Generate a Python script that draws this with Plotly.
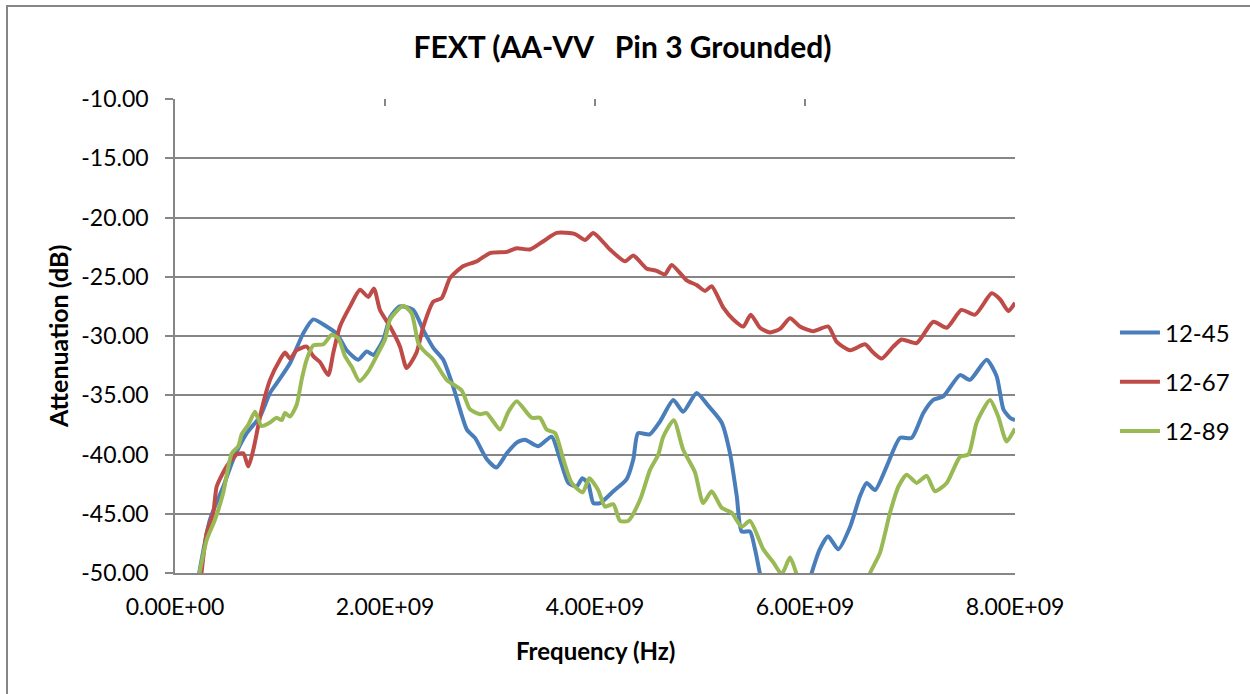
import plotly.graph_objects as go

# Far-end crosstalk, pin 3 grounded: frequency (GHz) and attenuation (dB) per pair
freq_12_45 = [0.20, 0.333, 0.46, 0.556, 0.683, 0.81, 0.905, 0.968, 1.095, 1.22, 1.317, 1.444, 1.54,
              1.635, 1.746, 1.825, 1.89, 1.984, 2.05, 2.14, 2.27, 2.365, 2.46, 2.555, 2.65, 2.78,
              2.857, 2.97, 3.06, 3.16, 3.254, 3.333, 3.46, 3.587, 3.667, 3.746, 3.825, 3.88, 3.937,
              3.984, 4.048, 4.175, 4.3, 4.365, 4.41, 4.52, 4.62, 4.746, 4.84, 4.968, 5.08, 5.206,
              5.286, 5.35, 5.397, 5.476, 5.524, 5.57, 5.62, 6.0, 6.063, 6.14, 6.22, 6.317, 6.43,
              6.524, 6.587, 6.667, 6.778, 6.905, 7.016, 7.127, 7.222, 7.317, 7.476, 7.571, 7.73,
              7.825, 7.89, 7.952, 8.0]
att_12_45 = [-51.5, -45.5, -42.7, -40.4, -38.2, -36.8, -34.8, -34.0, -32.3, -29.8, -28.6, -29.2, -29.8,
             -31.2, -32.0, -31.3, -31.6, -30.3, -28.4, -27.5, -27.8, -29.5, -31.0, -32.0, -34.3, -37.9,
             -38.6, -40.4, -41.1, -39.9, -39.0, -38.75, -39.3, -38.5, -40.4, -42.4, -42.7, -42.0, -42.5,
             -44.1, -44.1, -43.1, -42.1, -40.4, -38.2, -38.3, -37.2, -35.4, -36.4, -34.8, -35.9, -37.3,
             -39.9, -43.5, -46.5, -46.5, -48.0, -50.0, -52.0, -52.0, -50.0, -48.0, -46.9, -48.0, -46.1,
             -43.5, -42.4, -43.0, -41.0, -38.6, -38.6, -36.5, -35.4, -35.1, -33.3, -33.7, -32.0,
             -33.4, -36.2, -36.9, -37.1]

freq_12_67 = [0.24, 0.302, 0.365, 0.397, 0.492, 0.587, 0.65, 0.698, 0.746, 0.825, 0.905, 1.0, 1.048,
              1.095, 1.159, 1.254, 1.317, 1.38, 1.46, 1.508, 1.571, 1.667, 1.762, 1.84, 1.895, 1.952,
              2.048, 2.143, 2.206, 2.3, 2.365, 2.46, 2.54, 2.62, 2.746, 2.873, 3.0, 3.16, 3.254, 3.38,
              3.508, 3.635, 3.81, 3.905, 3.984, 4.143, 4.286, 4.365, 4.49, 4.587, 4.667, 4.73, 4.873,
              4.968, 5.048, 5.111, 5.222, 5.317, 5.413, 5.483, 5.571, 5.667, 5.762, 5.857, 5.952,
              6.079, 6.222, 6.302, 6.43, 6.571, 6.65, 6.73, 6.84, 6.92, 7.063, 7.222, 7.35, 7.49,
              7.62, 7.778, 7.857, 7.937, 8.0]
att_12_67 = [-51.0, -46.6, -44.9, -42.7, -41.0, -40.0, -39.9, -41.0, -39.6, -36.2, -33.7, -32.0, -31.4,
             -31.9, -31.2, -30.9, -31.7, -32.2, -33.3, -31.4, -29.2, -27.5, -26.1, -26.7, -26.0, -27.8,
             -29.2, -30.9, -32.7, -31.4, -29.2, -27.1, -26.8, -25.1, -24.1, -23.7, -23.0, -22.9, -22.6,
             -22.7, -22.0, -21.3, -21.4, -21.9, -21.3, -22.7, -23.7, -23.2, -24.3, -24.5, -24.8, -24.0,
             -25.3, -25.7, -26.2, -25.8, -27.6, -28.6, -29.2, -28.2, -29.3, -29.7, -29.4, -28.5, -29.2,
             -29.6, -29.2, -30.5, -31.2, -30.7, -31.4, -31.9, -30.9, -30.3, -30.6, -28.8, -29.3, -27.8,
             -28.2, -26.4, -26.9, -27.9, -27.2]

freq_12_89 = [0.20, 0.302, 0.381, 0.46, 0.54, 0.603, 0.635, 0.698, 0.762, 0.825, 0.905, 0.968, 1.016,
              1.048, 1.095, 1.159, 1.206, 1.254, 1.317, 1.413, 1.492, 1.556, 1.619, 1.683, 1.756, 1.84,
              1.937, 2.0, 2.048, 2.175, 2.254, 2.317, 2.365, 2.46, 2.587, 2.73, 2.81, 2.905, 2.968,
              3.095, 3.175, 3.254, 3.397, 3.476, 3.54, 3.62, 3.698, 3.778, 3.883, 3.946, 4.03, 4.095,
              4.175, 4.238, 4.317, 4.43, 4.524, 4.603, 4.65, 4.75, 4.84, 4.952, 5.03, 5.111, 5.206,
              5.3, 5.397, 5.476, 5.603, 5.698, 5.778, 5.857, 5.92, 5.98, 6.55, 6.62, 6.714, 6.81,
              6.89, 6.968, 7.063, 7.159, 7.238, 7.35, 7.476, 7.556, 7.635, 7.762, 7.84, 7.92, 8.0]
att_12_89 = [-51.5, -47.2, -45.5, -43.2, -39.9, -39.3, -38.3, -37.5, -36.4, -37.6, -37.3, -36.9, -37.1,
             -36.5, -36.8, -35.8, -33.7, -32.0, -30.8, -30.7, -29.9, -30.2, -31.7, -32.6, -33.8, -33.0,
             -31.4, -30.3, -28.6, -27.45, -28.1, -30.6, -31.2, -32.0, -33.7, -34.6, -36.2, -36.6, -36.5,
             -37.9, -36.4, -35.5, -36.9, -36.9, -37.9, -38.2, -40.4, -42.4, -43.2, -42.0, -43.0, -44.4,
             -44.2, -45.6, -45.6, -43.8, -41.3, -40.0, -38.5, -37.1, -39.6, -41.5, -44.1, -43.1, -44.5,
             -44.9, -46.1, -45.6, -48.0, -49.1, -50.1, -48.7, -50.1, -52.0, -52.0, -50.0, -48.3, -44.9,
             -42.7, -41.7, -42.4, -41.8, -43.1, -42.4, -40.2, -40.0, -37.3, -35.4, -36.8, -38.9, -37.8]

series_names = ["12-45", "12-67", "12-89"]
series_colors = ["#4A7EBB", "#BE4B48", "#98B954"]

x_tick_vals = [0, 2e9, 4e9, 6e9, 8e9]
x_tick_text = ["0.00E+00", "2.00E+09", "4.00E+09", "6.00E+09", "8.00E+09"]
y_tick_vals = [-10, -15, -20, -25, -30, -35, -40, -45, -50]
y_tick_text = ["-10.00", "-15.00", "-20.00", "-25.00", "-30.00", "-35.00", "-40.00", "-45.00", "-50.00"]

FONT = "Lato"
GRID = "#868686"

fig = go.Figure()
for name, color, f_ghz, att in zip(series_names, series_colors,
                                   [freq_12_45, freq_12_67, freq_12_89],
                                   [att_12_45, att_12_67, att_12_89]):
    fig.add_trace(go.Scatter(
        x=[f * 1e9 for f in f_ghz], y=att, name=name, mode="lines",
        legendgroup=name,
        line=dict(color=color, width=4, shape="spline", smoothing=0.6),
    ))

fig.update_layout(
    width=1250, height=694,
    margin=dict(l=175, r=235, t=99, b=121),
    paper_bgcolor="white", plot_bgcolor="white",
    font=dict(family=FONT, size=23, color="black"),
    title=dict(text="FEXT (AA-VV\u00a0\u00a0 Pin 3 Grounded)",
               font=dict(family=FONT, size=30, color="black", weight="bold"),
               x=0.498, xref="container", xanchor="center",
               y=1 - 47 / 694, yref="container", yanchor="middle"),
    xaxis=dict(range=[0, 8e9], tickvals=x_tick_vals, ticktext=x_tick_text,
               showgrid=False, zeroline=False, showline=True, linecolor=GRID, linewidth=1.5,
               ticks="", ticklabelstandoff=13, tickfont=dict(size=23)),
    xaxis2=dict(range=[0, 8e9], overlaying="x", side="top", matches="x",
                tickvals=x_tick_vals, showticklabels=False, showgrid=False, zeroline=False,
                showline=False, ticks="inside", ticklen=7, tickwidth=1.5, tickcolor=GRID),
    yaxis=dict(range=[-50, -10], tickvals=y_tick_vals, ticktext=y_tick_text,
               showgrid=True, gridcolor=GRID, gridwidth=1.5, zeroline=False,
               showline=True, linecolor=GRID, linewidth=1.5,
               ticks="outside", ticklen=8, tickwidth=1.5, tickcolor=GRID,
               ticklabelstandoff=12, tickfont=dict(size=23)),
    legend=dict(x=1.119, y=(573 - 382) / 474, xanchor="left", yanchor="middle",
                font=dict(size=24), tracegroupgap=15, itemwidth=40,
                bgcolor="rgba(0,0,0,0)"),
    showlegend=True,
)

# keep the top axis drawn: attach an invisible copy of one series to it
fig.add_trace(go.Scatter(x=[f * 1e9 for f in freq_12_45], y=att_12_45, xaxis="x2",
                         mode="lines", line=dict(width=0), opacity=0,
                         showlegend=False, hoverinfo="skip"))

fig.add_annotation(text="<b>Attenuation (dB)</b>", textangle=-90, showarrow=False,
                   xref="paper", yref="paper", x=(58 - 175) / 840, y=(573 - 337) / 474,
                   xanchor="center", yanchor="middle", font=dict(size=25))
fig.add_annotation(text="<b>Frequency (Hz)</b>", showarrow=False,
                   xref="paper", yref="paper", x=(595 - 175) / 840, y=(573 - 650) / 474,
                   xanchor="center", yanchor="middle", font=dict(size=24))

# chart frame
fig.add_shape(type="rect", xref="paper", yref="paper",
              x0=(7 - 175) / 840, x1=(1262 - 175) / 840,
              y0=(573 - 700) / 474, y1=(573 - 6) / 474,
              line=dict(color="#868686", width=2), fillcolor="rgba(0,0,0,0)", layer="below")

fig.write_html("out.html")
